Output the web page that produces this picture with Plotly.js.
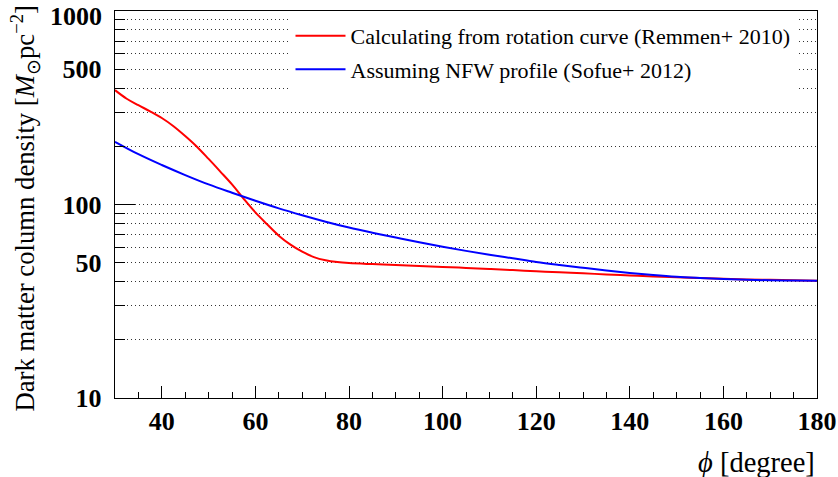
<!DOCTYPE html>
<html>
<head>
<meta charset="utf-8">
<script src="https://cdn.plot.ly/plotly-3.0.1.min.js"></script>
<style>
  html, body { margin: 0; padding: 0; background: #fff; }
  #chart { width: 838px; height: 477px; }
</style>
</head>
<body>
<div id="chart"></div>
<script>
// Dark matter column density along the line of sight vs. angle phi
const phiRemmen = [30, 32.5, 35, 37.5, 40, 42.5, 45, 47.5, 50, 52.5, 55, 57.5, 60, 62.5, 65, 67.5, 70, 72.5, 75, 77.5, 80, 85, 90, 95, 100, 105, 110, 115, 120, 125, 130, 135, 140, 145, 150, 155, 160, 165, 170, 175, 180];
const densRemmen = [390, 352, 326, 303, 280, 254, 226, 199, 172, 148, 127, 107, 91, 79, 69, 62, 57, 53.5, 51.5, 50.4, 49.8, 49.2, 48.7, 48.1, 47.6, 47.0, 46.4, 45.8, 45.2, 44.6, 44.1, 43.5, 43.0, 42.5, 42.1, 41.7, 41.3, 41.0, 40.8, 40.6, 40.4];

const phiNFW = [30, 35, 40, 45, 50, 55, 60, 65, 70, 75, 80, 85, 90, 95, 100, 105, 110, 115, 120, 125, 130, 135, 140, 145, 150, 155, 160, 165, 170, 175, 180];
const densNFW = [211, 182, 160, 142, 127, 115, 104.5, 95.5, 88, 81.5, 76, 71.5, 67.5, 63.8, 60.5, 57.6, 55, 52.7, 50.5, 48.7, 47.1, 45.6, 44.3, 43.2, 42.3, 41.7, 41.2, 40.8, 40.6, 40.5, 40.4];

const seriesNames = ['Calculating from rotation curve (Remmen+ 2010)', 'Assuming NFW profile (Sofue+ 2012)'];

// y-axis (log): labelled ticks, unlabelled grid ticks, long decade ticks
const yLabelVals = [10, 50, 100, 500];
const yLabelText = ['10', '50', '100', '500'];
const yTopLabel = 1000;
const yGridVals = [20, 30, 40, 60, 70, 80, 90, 200, 300, 400, 600, 700, 800, 900, 1000];
const yDecadeVals = [10, 100, 1000];

const serif = "'Liberation Serif', 'Times New Roman', Times, serif";
const yRange = [0.9999, 3.0002];

const traces = [
  {
    x: phiRemmen, y: densRemmen, name: seriesNames[0], type: 'scatter', mode: 'lines',
    line: { color: '#ff0000', width: 2, shape: 'spline', smoothing: 1 },
    legendgroup: 'a'
  },
  {
    // same log scale as yaxis; yaxis2 only adds the long decade ticks
    x: phiNFW, y: densNFW, name: seriesNames[1], type: 'scatter', mode: 'lines',
    yaxis: 'y2',
    line: { color: '#0000ff', width: 2, shape: 'spline', smoothing: 1 },
    legendgroup: 'b'
  }
];

const layout = {
  width: 838, height: 477,
  margin: { l: 115, r: 21, t: 11, b: 79 },
  paper_bgcolor: '#fff', plot_bgcolor: '#fff',
  font: { family: serif, color: '#000' },
  xaxis: {
    range: [30, 180], tick0: 0, dtick: 20,
    ticks: 'inside', ticklen: 12, tickwidth: 1, tickcolor: '#000',
    minor: { dtick: 5, ticks: 'inside', ticklen: 6, tickwidth: 1, tickcolor: '#000', showgrid: false },
    showgrid: false, zeroline: false,
    showline: true, linecolor: '#000', linewidth: 1.2, mirror: true,
    tickfont: { family: serif, size: 26, weight: 'bold', color: '#000' }
  },
  yaxis: {
    type: 'log', range: yRange,
    tickmode: 'array', tickvals: yLabelVals, ticktext: yLabelText,
    ticks: 'inside', ticklen: 10, tickwidth: 1, tickcolor: '#000',
    showgrid: true, gridcolor: '#333', gridwidth: 1, griddash: '1px,3px',
    minor: {
      tickmode: 'array', tickvals: yGridVals,
      ticks: 'inside', ticklen: 10, tickwidth: 1, tickcolor: '#000',
      showgrid: true, gridcolor: '#333', gridwidth: 1, griddash: '1px,3px'
    },
    ticklabelstandoff: 7,
    zeroline: false,
    showline: true, linecolor: '#000', linewidth: 1.2, mirror: true,
    tickfont: { family: serif, size: 26, weight: 'bold', color: '#000' }
  },
  yaxis2: {
    type: 'log', range: yRange, overlaying: 'y', side: 'left',
    tickmode: 'array', tickvals: yDecadeVals,
    ticks: 'inside', ticklen: 20, tickwidth: 1, tickcolor: '#000',
    showticklabels: false, showgrid: false, zeroline: false, showline: false
  },
  showlegend: true,
  legend: {
    x: 0.25, y: 0.99, xanchor: 'left', yanchor: 'top',
    bgcolor: '#fff', borderwidth: 0,
    traceorder: 'grouped', tracegroupgap: 2, itemwidth: 50,
    font: { family: serif, size: 22, color: '#000' }
  },
  annotations: [
    {
      // top decade label, nudged down to stay inside the page
      text: String(yTopLabel), xref: 'paper', yref: 'y', x: -0.016, y: Math.log10(yTopLabel),
      xanchor: 'right', yanchor: 'middle', yshift: -5, showarrow: false,
      font: { family: serif, size: 26, weight: 'bold', color: '#000' }
    },
    {
      text: '<i>ϕ</i> [degree]', xref: 'paper', yref: 'paper',
      x: 1, y: -0.122, xanchor: 'right', yanchor: 'top', showarrow: false,
      font: { family: serif, size: 28.5, color: '#000' }
    },
    {
      text: 'Dark matter column density [<i>M</i><sub>⊙</sub>pc<sup>−2</sup>]',
      xref: 'paper', yref: 'paper', x: -0.128, y: 0.49,
      xanchor: 'center', yanchor: 'middle', textangle: -90, showarrow: false,
      font: { family: serif, size: 26.7, color: '#000' }
    }
  ]
};

Plotly.newPlot('chart', traces, layout, { displayModeBar: false, staticPlot: true });
</script>
</body>
</html>
